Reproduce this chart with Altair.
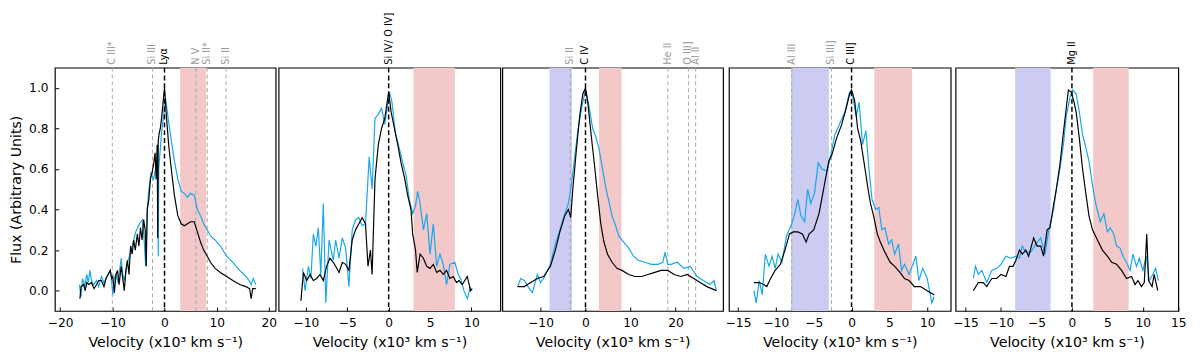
import altair as alt
import pandas as pd

# ---------------- data (velocity x10^3 km/s, normalised flux) ----------------
P1_BLACK_V = [-16.2, -16.0, -15.5, -15.2, -14.9, -14.5, -14.0, -13.5, -13.0, -12.6, -12.1, -11.6, -11.2, -10.8, -10.4, -10.1, -9.9, -9.6, -9.3, -9.0, -8.7, -8.3, -8.0, -7.7, -7.4, -7.1, -6.8, -6.5, -6.2, -5.9, -5.6, -5.2, -4.9, -4.6, -4.3, -4.0, -3.7, -3.5, -3.3, -3.0, -2.7, -2.4, -2.1, -1.8, -1.6, -1.4, -1.3, -1.2, -1.0, -0.8, -0.56, -0.3, 0.0, 0.4, 0.8, 1.3, 1.9, 2.55, 3.2, 3.8, 4.4, 5.0, 5.7, 6.3, 6.9, 7.5, 8.2, 8.8, 9.7, 10.7, 11.9, 13.1, 14.4, 15.6, 16.3, 16.6, 16.9, 17.5]
P1_BLACK_F = [-0.04, 0.02, 0.03, 0.0, 0.04, 0.03, 0.04, 0.01, 0.03, 0.05, 0.05, 0.02, 0.06, 0.08, 0.10, 0.06, 0.07, -0.01, 0.08, 0.10, 0.03, 0.12, 0.06, 0.0, 0.10, 0.15, 0.08, 0.22, 0.18, 0.25, 0.20, 0.28, 0.22, 0.31, 0.25, 0.35, 0.30, 0.12, 0.40, 0.45, 0.55, 0.58, 0.62, 0.68, 0.55, 0.72, 0.26, 0.74, 0.78, 0.80, 0.85, 0.92, 1.0, 0.85, 0.72, 0.60, 0.47, 0.37, 0.33, 0.32, 0.33, 0.34, 0.34, 0.29, 0.24, 0.20, 0.17, 0.14, 0.11, 0.09, 0.07, 0.05, 0.03, 0.02, 0.01, -0.04, 0.01, 0.01]

P1_BLUE_V = [-16.3, -16.0, -15.7, -15.3, -14.9, -14.6, -14.3, -14.0, -13.6, -13.0, -12.6, -12.1, -11.6, -11.2, -10.8, -10.4, -10.1, -9.9, -9.6, -9.3, -8.9, -8.3, -8.0, -7.7, -7.4, -7.1, -6.6, -6.2, -5.8, -5.5, -4.8, -4.2, -3.9, -3.6, -3.3, -3.1, -2.6, -2.1, -1.7, -1.3, -1.2, -1.1, -0.56, 0.2, 0.7, 1.3, 1.9, 2.55, 3.2, 3.8, 4.4, 5.0, 5.7, 6.3, 6.9, 7.5, 8.2, 8.8, 9.7, 10.7, 11.9, 13.1, 14.4, 15.6, 16.2, 16.6, 17.0, 17.5]
P1_BLUE_F = [0.03, -0.03, 0.06, 0.02, 0.08, 0.04, 0.10, 0.05, 0.03, 0.05, 0.02, 0.07, 0.04, 0.06, 0.08, 0.10, 0.04, -0.02, 0.06, 0.08, 0.04, 0.16, 0.08, 0.05, 0.09, 0.14, 0.18, 0.22, 0.26, 0.29, 0.33, 0.35, 0.25, 0.12, 0.40, 0.47, 0.58, 0.55, 0.60, 0.62, 0.17, 0.60, 0.78, 0.95, 0.85, 0.74, 0.64, 0.55, 0.49, 0.48, 0.46, 0.48, 0.47, 0.40, 0.37, 0.33, 0.30, 0.27, 0.25, 0.22, 0.17, 0.14, 0.10, 0.07, 0.05, 0.03, 0.06, 0.03]

P2_BLACK_V = [-10.6, -10.5, -10.3, -9.9, -9.5, -9.1, -8.7, -8.3, -7.9, -7.5, -7.1, -6.7, -6.4, -6.0, -5.6, -5.2, -4.8, -4.4, -4.0, -3.6, -3.2, -2.8, -2.5, -2.2, -2.0, -1.65, -1.25, -0.86, -0.47, 0.0, 0.3, 0.7, 1.1, 1.5, 1.9, 2.3, 2.7, 2.9, 3.25, 3.45, 3.8, 4.2, 4.6, 5.0, 5.4, 5.8, 6.2, 6.6, 7.0, 7.4, 7.8, 8.2, 8.5, 8.9, 9.5, 9.9, 10.1]
P2_BLACK_F = [-0.05, 0.0, 0.09, 0.05, 0.08, 0.05, 0.06, 0.08, 0.05, 0.12, 0.16, 0.14, 0.12, 0.09, 0.14, 0.13, 0.10, 0.25, 0.30, 0.33, 0.36, 0.33, 0.12, 0.20, 0.08, 0.55, 0.72, 0.80, 0.85, 0.98, 0.88, 0.80, 0.72, 0.63, 0.56, 0.47, 0.40, 0.28, 0.20, 0.09, 0.18, 0.16, 0.12, 0.11, 0.13, 0.09, 0.10, 0.08, 0.10, 0.06, 0.07, 0.04, 0.05, 0.03, 0.07, 0.0, 0.01]

P2_BLUE_V = [-10.4, -10.1, -9.7, -9.4, -9.1, -8.8, -8.5, -8.2, -7.9, -7.6, -7.2, -6.7, -6.4, -6.0, -5.6, -5.2, -4.8, -4.4, -4.0, -3.6, -3.2, -2.8, -2.35, -2.0, -1.65, -1.25, -0.86, -0.47, 0.1, 0.4, 0.8, 1.3, 1.7, 2.1, 2.5, 2.9, 3.25, 3.5, 3.8, 4.2, 4.6, 5.0, 5.4, 5.8, 6.2, 6.6, 7.0, 7.4, 8.0, 8.4, 8.7, 9.1, 9.5, 9.9]
P2_BLUE_F = [0.11, 0.0, 0.12, 0.06, 0.28, 0.22, 0.31, 0.08, 0.43, -0.06, 0.25, 0.15, 0.25, 0.16, 0.26, 0.21, 0.02, 0.30, 0.35, 0.36, 0.32, 0.33, 0.66, 0.50, 0.85, 0.87, 0.90, 0.82, 0.98, 0.93, 0.78, 0.70, 0.63, 0.57, 0.45, 0.38, 0.42, 0.49, 0.43, 0.30, 0.38, 0.18, 0.33, 0.12, 0.18, 0.13, 0.03, 0.13, 0.14, 0.08, 0.06, 0.0, -0.04, 0.02]

P3_BLACK_V = [-15.1, -13.6, -12.2, -10.7, -9.3, -7.8, -6.7, -5.7, -4.6, -3.8, -3.3, -2.75, -2.0, -1.3, -0.6, 0.0, 0.5, 1.2, 2.0, 2.7, 3.4, 4.1, 4.9, 5.9, 7.0, 8.1, 9.6, 11.0, 12.5, 13.9, 15.4, 16.8, 18.3, 19.7, 21.2, 22.6, 24.1, 25.5, 27.0, 29.1]
P3_BLACK_F = [0.02, 0.02, 0.04, 0.06, 0.07, 0.12, 0.20, 0.29, 0.37, 0.40, 0.36, 0.52, 0.70, 0.86, 0.97, 1.0, 0.93, 0.78, 0.62, 0.47, 0.33, 0.24, 0.18, 0.14, 0.11, 0.10, 0.08, 0.07, 0.07, 0.08, 0.09, 0.10, 0.10, 0.08, 0.07, 0.08, 0.06, 0.04, 0.02, 0.0]

P3_BLUE_V = [-15.1, -14.4, -13.6, -12.8, -11.8, -10.7, -10.0, -9.3, -7.8, -6.7, -5.7, -4.6, -3.8, -3.1, -2.4, -1.7, -0.7, 0.0, 0.7, 1.6, 2.3, 3.0, 3.8, 4.5, 5.2, 5.9, 6.7, 7.4, 8.5, 9.6, 10.7, 11.7, 13.2, 14.6, 16.1, 17.2, 17.7, 18.3, 19.0, 20.4, 21.9, 23.3, 24.8, 26.2, 27.7, 28.6, 29.1]
P3_BLUE_F = [0.02, 0.06, 0.05, 0.02, -0.01, 0.08, 0.04, 0.06, 0.13, 0.23, 0.30, 0.38, 0.43, 0.53, 0.66, 0.79, 0.92, 0.99, 0.92, 0.80, 0.76, 0.70, 0.60, 0.51, 0.44, 0.37, 0.32, 0.27, 0.24, 0.21, 0.17, 0.15, 0.14, 0.13, 0.13, 0.14, 0.19, 0.13, 0.13, 0.14, 0.11, 0.12, 0.07, 0.05, 0.03, 0.05, 0.0]

P4_BLACK_V = [-12.9, -12.2, -11.6, -11.2, -10.7, -10.1, -9.4, -8.8, -8.2, -7.7, -7.1, -6.5, -6.0, -5.6, -5.0, -4.3, -3.7, -3.0, -2.6, -2.0, -1.3, -0.7, -0.26, 0.0, 0.4, 0.8, 1.2, 1.7, 2.1, 2.5, 2.9, 3.4, 3.8, 4.4, 5.1, 5.7, 6.4, 7.0, 7.6, 8.3, 9.1, 10.0, 10.9]
P4_BLACK_F = [0.04, 0.04, 0.03, 0.02, 0.06, 0.10, 0.13, 0.20, 0.28, 0.29, 0.29, 0.28, 0.24, 0.28, 0.30, 0.38, 0.50, 0.64, 0.67, 0.75, 0.82, 0.90, 0.97, 0.99, 0.94, 0.80, 0.74, 0.62, 0.52, 0.43, 0.37, 0.28, 0.24, 0.19, 0.14, 0.12, 0.09, 0.06, 0.05, 0.02, 0.02, 0.0, -0.02]

P4_BLUE_V = [-12.9, -12.6, -12.2, -11.8, -11.4, -10.9, -10.5, -10.1, -9.7, -9.2, -8.6, -7.9, -7.5, -7.1, -6.7, -6.2, -5.8, -5.4, -4.9, -4.4, -3.9, -3.2, -2.8, -2.2, -1.5, -0.9, -0.26, 0.2, 0.6, 1.0, 1.45, 1.9, 2.3, 2.7, 3.2, 3.6, 4.0, 4.4, 4.9, 5.3, 5.7, 6.2, 6.6, 7.0, 7.6, 8.5, 8.9, 9.4, 10.0, 10.6, 10.9]
P4_BLUE_F = [0.0, -0.06, 0.05, -0.02, 0.18, 0.12, 0.17, 0.11, 0.18, 0.14, 0.27, 0.33, 0.38, 0.45, 0.37, 0.34, 0.50, 0.43, 0.48, 0.63, 0.60, 0.59, 0.66, 0.77, 0.83, 0.88, 0.98, 0.95, 0.86, 0.93, 0.72, 0.79, 0.60, 0.45, 0.40, 0.41, 0.30, 0.31, 0.23, 0.25, 0.18, 0.23, 0.10, 0.13, 0.08, 0.17, 0.05, 0.11, 0.06, -0.06, -0.03]

P5_BLACK_V = [-13.9, -13.2, -12.5, -12.0, -11.3, -10.6, -10.0, -9.3, -8.8, -8.3, -7.9, -7.4, -7.0, -6.5, -6.1, -5.4, -4.9, -4.4, -4.0, -3.5, -3.1, -2.6, -2.2, -1.7, -1.2, -0.8, -0.5, -0.1, 0.3, 0.6, 1.05, 1.5, 2.0, 2.4, 2.9, 3.6, 4.3, 5.0, 5.6, 6.3, 7.0, 7.7, 8.4, 8.9, 9.3, 9.8, 10.2, 10.55, 10.8, 11.3, 11.6, 12.1]
P5_BLACK_F = [0.0, 0.04, 0.04, 0.02, 0.06, 0.06, 0.08, 0.07, 0.12, 0.12, 0.15, 0.20, 0.18, 0.20, 0.17, 0.26, 0.22, 0.22, 0.17, 0.30, 0.31, 0.42, 0.50, 0.62, 0.78, 0.90, 0.99, 0.98, 0.93, 0.88, 0.75, 0.60, 0.47, 0.37, 0.30, 0.25, 0.20, 0.17, 0.14, 0.13, 0.10, 0.06, 0.07, 0.03, 0.05, 0.02, 0.04, 0.28, 0.05, 0.02, 0.08, 0.0]

P5_BLUE_V = [-13.9, -13.6, -13.2, -12.7, -12.0, -11.3, -10.6, -10.0, -9.3, -8.6, -7.9, -7.4, -7.0, -6.5, -5.8, -5.1, -4.4, -3.8, -3.3, -2.6, -2.2, -1.7, -1.2, -0.8, -0.3, 0.1, 0.6, 1.05, 1.5, 2.0, 2.4, 2.9, 3.35, 4.0, 4.5, 5.0, 5.4, 5.9, 6.3, 6.8, 7.2, 7.7, 8.2, 8.6, 9.1, 9.5, 10.0, 10.5, 10.9, 11.4, 11.8, 12.2]
P5_BLUE_F = [0.06, 0.12, 0.08, 0.10, 0.04, 0.10, 0.11, 0.13, 0.17, 0.16, 0.17, 0.16, 0.22, 0.19, 0.19, 0.23, 0.26, 0.18, 0.29, 0.40, 0.50, 0.60, 0.72, 0.86, 0.95, 0.99, 0.97, 0.88, 0.77, 0.70, 0.64, 0.52, 0.43, 0.34, 0.38, 0.29, 0.31, 0.28, 0.22, 0.21, 0.17, 0.14, 0.10, 0.18, 0.12, 0.16, 0.10, 0.17, 0.05, 0.08, 0.11, 0.05]

# line identifications: (label, velocity, primary?)
P1_LINES = [("C III*", -10.0, False), ("Si III", -2.3, False), ("Lyα", 0.0, True),
            ("N V", 6.0, False), ("Si II*", 8.2, False), ("Si II", 11.8, False)]
P2_LINES = [("Si IV/ O IV]", 0.0, True)]
P3_LINES = [("Si II", -3.4, False), ("C IV", 0.0, True), ("He II", 18.3, False),
            ("O III]", 22.9, False), ("Al II", 24.5, False)]
P4_LINES = [("Al III", -7.9, False), ("Si III]", -2.65, False), ("C III]", 0.0, True)]
P5_LINES = [("Mg II", 0.0, True)]

# shaded windows: (start, end, kind)
P1_BANDS = [(3, 8, "red")]
P2_BANDS = [(3, 8, "red")]
P3_BANDS = [(-8, -3, "blue"), (3, 8, "red")]
P4_BANDS = [(-8, -3, "blue"), (3, 8, "red")]
P5_BANDS = [(-8, -3, "blue"), (3, 8, "red")]

X_DOMAINS = [[-21.0, 21.3], [-13.3, 13.5], [-18.5, 30.6], [-16.2, 13.1], [-16.4, 15.0]]
X_TICKS = [[-20, -10, 0, 10, 20], [-10, -5, 0, 5, 10], [-10, 0, 10, 20],
           [-15, -10, -5, 0, 5, 10], [-15, -10, -5, 0, 5, 10, 15]]
Y_TICKS = [0.0, 0.2, 0.4, 0.6, 0.8, 1.0]
WIDTHS = [226, 227, 226, 227, 228]
H = 249

BLUE = "#14a7ee"
BAND_COLORS = {"red": "#f3c8c8", "blue": "#cccbf1"}
XTITLE = "Velocity (x10³ km s⁻¹)"
YTITLE = "Flux (Arbitrary Units)"


def panel(i, bv, bf, cv, cf, lines, bands, first):
    W = WIDTHS[i]
    xs = alt.Scale(domain=X_DOMAINS[i], nice=False, zero=False)
    ys = alt.Scale(domain=[-0.1, 1.1], nice=False, zero=False)
    xax = alt.Axis(values=X_TICKS[i], title=XTITLE, format="d", offset=-4, tickSize=4,
                   labelPadding=6, titlePadding=7, domain=False, grid=False, labelFlush=False)
    X = lambda f: alt.X(f, type="quantitative", scale=xs, axis=xax)

    spec = pd.DataFrame(
        [{"v": v, "f": f, "s": "a_blue", "c": BLUE} for v, f in zip(cv, cf)] +
        [{"v": v, "f": f, "s": "b_black", "c": "black"} for v, f in zip(bv, bf)])
    ln = pd.DataFrame([{"name": n, "v": v, "p": p,
                        "c": "black" if p else "#9a9a9a"} for n, v, p in lines])
    bd = pd.DataFrame([{"a": a, "b": b, "c": BAND_COLORS[k]} for a, b, k in bands])

    if first:
        yax = alt.Axis(values=Y_TICKS, format=".1f", title=YTITLE, offset=-4, tickSize=4,
                       labelPadding=7, titlePadding=5, domain=False, grid=False)
    else:
        yax = None

    band = alt.Chart(bd).mark_rect().encode(
        x=X("a"), x2="b", y=alt.value(0), y2=alt.value(H),
        color=alt.Color("c:N", scale=None))
    gray = alt.Chart(ln[~ln["p"]]).mark_rule(
        strokeDash=[4, 3], strokeWidth=1, color="#a8a8a8").encode(
        x=X("v"), y=alt.value(0), y2=alt.value(H))
    sp = alt.Chart(spec).mark_line(strokeWidth=1.2).encode(
        x=X("v"), y=alt.Y("f:Q", scale=ys, axis=yax),
        color=alt.Color("c:N", scale=None), detail="s:N", order="v:Q")
    blk = alt.Chart(ln[ln["p"]]).mark_rule(
        strokeDash=[5, 3], strokeWidth=1.5, color="black").encode(
        x=X("v"), y=alt.value(0), y2=alt.value(H))
    txt = alt.Chart(ln).mark_text(angle=270, align="left", baseline="middle",
                                  font="DejaVu Sans", fontSize=10, dx=3).encode(
        x=X("v"), y=alt.value(0), text="name:N", color=alt.Color("c:N", scale=None))
    layers = [band]
    if (~ln["p"]).any():
        layers.append(gray)
    layers += [sp, blk, txt]
    return alt.layer(*layers).properties(width=W, height=H)


panels = [
    panel(0, P1_BLACK_V, P1_BLACK_F, P1_BLUE_V, P1_BLUE_F, P1_LINES, P1_BANDS, True),
    panel(1, P2_BLACK_V, P2_BLACK_F, P2_BLUE_V, P2_BLUE_F, P2_LINES, P2_BANDS, False),
    panel(2, P3_BLACK_V, P3_BLACK_F, P3_BLUE_V, P3_BLUE_F, P3_LINES, P3_BANDS, False),
    panel(3, P4_BLACK_V, P4_BLACK_F, P4_BLUE_V, P4_BLUE_F, P4_LINES, P4_BANDS, False),
    panel(4, P5_BLACK_V, P5_BLACK_F, P5_BLUE_V, P5_BLUE_F, P5_LINES, P5_BANDS, False),
]

chart = alt.hconcat(*panels, spacing=0,
                    padding={"top": 0, "left": 0, "right": 5, "bottom": 0}).configure_view(
    stroke="black", strokeWidth=1.2
).configure_axis(
    labelFont="DejaVu Sans", titleFont="DejaVu Sans", labelFontSize=12.5, titleFontSize=14.5,
    titleFontWeight="normal", labelColor="black", titleColor="black", tickColor="black"
).configure_concat(spacing=0)

chart.save("out.html", embed_options={"renderer": "svg", "actions": False})
